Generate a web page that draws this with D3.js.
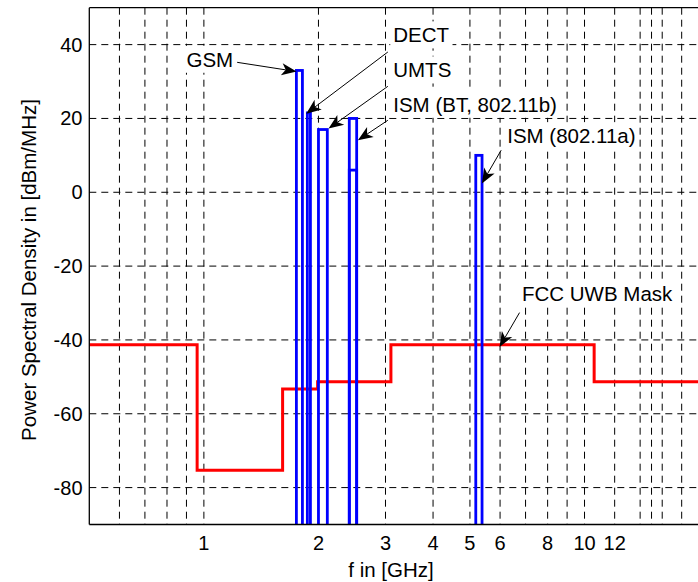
<!DOCTYPE html>
<html><head><meta charset="utf-8">
<script src="https://cdn.jsdelivr.net/npm/d3@7"></script>
<style>body{margin:0;background:#fff;overflow:hidden} text{font-family:"Liberation Sans",Arial,Helvetica,sans-serif;fill:#000}</style>
</head><body><svg id="c" width="698" height="582"></svg>
<script>
// ---- data ----
const xDomain = [0.5, 20];
const yDomain = [-90, 50];
const xGrid = [0.6, 0.7, 0.8, 0.9, 1, 2, 3, 4, 5, 6, 7, 8, 9, 10, 12, 14, 15, 16, 18];
const xTicks = [1, 2, 3, 4, 5, 6, 8, 10, 12];
const yTicks = [-80, -60, -40, -20, 0, 20, 40];

// FCC UWB mask (step starts in GHz, level in dBm/MHz)
const maskF  = [0.5, 0.96, 1.61, 1.99, 3.1, 10.6, 20];
const maskDb = [-41.3, -75.3, -53.3, -51.3, -41.3, -51.3, -51.3];

// narrow-band systems
const bandNames = ["GSM", "DECT", "UMTS", "ISM (BT, 802.11b)", "ISM (BT)", "ISM (802.11a)"];
const bandLo  = [1.75, 1.87, 2.0, 2.41, 2.41, 5.18];
const bandHi  = [1.815, 1.905, 2.11, 2.52, 2.52, 5.38];
const bandTop = [33, 21.5, 17, 20, 6, 10];
const bandFloor = -100;

// annotations (data coordinates)
const annLabel  = ["GSM", "DECT", "UMTS", "ISM (BT, 802.11b)", "ISM (802.11a)", "FCC UWB Mask"];
const annTextF  = [1.194, 3.144, 3.144, 3.144, 6.265, 6.85];
const annTextV  = [34.0, 40.6, 31.1, 21.8, 13.3, -29.4];
const annAnchor = ["end", "start", "start", "start", "start", "start"];
const annTailF  = [1.223, 3.043, 3.043, 3.043, 6.04, 6.75];
const annTailV  = [35.2, 38.0, 28.7, 19.5, 11.4, -32.6];
const annTipF   = [1.752, 1.857, 2.126, 2.539, 5.375, 5.98];
const annTipV   = [32.7, 21.3, 17.25, 14.1, 2.4, -41.9];

// ---- layout ----
const L = 89.3, R = 699.1, T = 7.7, B = 524.5;
const svg = d3.select("#c");
const x = d3.scaleLog().domain(xDomain).range([L, R]);
const y = d3.scaleLinear().domain(yDomain).range([B, T]);

svg.append("defs").append("clipPath").attr("id", "clip")
  .append("rect").attr("x", L).attr("y", T).attr("width", R - L).attr("height", B - T);

// grid
const grid = svg.append("g");
grid.selectAll("line.v").data(xGrid).join("line").attr("class", "v")
  .attr("x1", d => x(d)).attr("x2", d => x(d)).attr("y1", T).attr("y2", B)
  .attr("stroke", "#000").attr("stroke-width", 1).attr("stroke-dasharray", "7,5");
grid.selectAll("line.h").data(yTicks).join("line").attr("class", "h")
  .attr("x1", L).attr("x2", R).attr("y1", d => y(d)).attr("y2", d => y(d))
  .attr("stroke", "#000").attr("stroke-width", 1).attr("stroke-dasharray", "7,5");

const plot = svg.append("g").attr("clip-path", "url(#clip)");

// mask
const maskPts = maskF.map((f, i) => [f, maskDb[i]]);
plot.append("path").datum(maskPts)
  .attr("d", d3.line().x(d => x(d[0])).y(d => y(d[1])).curve(d3.curveStepAfter))
  .attr("fill", "none").attr("stroke", "#ff0000").attr("stroke-width", 3);

// bands
plot.selectAll("rect.band").data(bandNames.map((n, i) => i)).join("rect").attr("class", "band")
  .attr("x", i => x(bandLo[i])).attr("width", i => x(bandHi[i]) - x(bandLo[i]))
  .attr("y", i => y(bandTop[i])).attr("height", i => y(bandFloor) - y(bandTop[i]))
  .attr("fill", "none").attr("stroke", "#0000ff").attr("stroke-width", 2.8);

// axes box
svg.append("line").attr("x1", L).attr("x2", L).attr("y1", T).attr("y2", B).attr("stroke", "#000").attr("stroke-width", 1.3);
svg.append("line").attr("x1", L).attr("x2", R).attr("y1", B).attr("y2", B).attr("stroke", "#000").attr("stroke-width", 1.3);
svg.append("line").attr("x1", L).attr("x2", R).attr("y1", T).attr("y2", T).attr("stroke", "#000").attr("stroke-width", 1.3);

// tick labels
svg.selectAll("text.yt").data(yTicks).join("text").attr("class", "yt")
  .attr("x", L - 6.8).attr("y", d => y(d) + 7).attr("text-anchor", "end")
  .attr("font-size", 20).text(d => d);
svg.selectAll("text.xt").data(xTicks).join("text").attr("class", "xt")
  .attr("x", d => x(d)).attr("y", 550).attr("text-anchor", "middle")
  .attr("font-size", 20).text(d => d);

// axis labels
svg.append("text").attr("x", 391).attr("y", 577).attr("text-anchor", "middle")
  .attr("font-size", 20.5).text("f in [GHz]");
svg.append("text").attr("transform", "translate(36,270) rotate(-90)").attr("text-anchor", "middle")
  .attr("font-size", 20.5).text("Power Spectral Density in [dBm/MHz]");

// annotations
const ann = svg.append("g");
annLabel.forEach((lab, i) => {
  const g = ann.append("g");
  const bg = g.append("rect").attr("fill", "#fff");
  const t = g.append("text").attr("x", x(annTextF[i])).attr("y", y(annTextV[i]))
    .attr("text-anchor", annAnchor[i]).attr("font-size", 20.5).text(lab);
  const bb = t.node().getBBox();
  bg.attr("x", bb.x - 3).attr("y", bb.y - 2).attr("width", bb.width + 6).attr("height", bb.height + 4);
  // arrow
  const x1 = x(annTailF[i]), y1 = y(annTailV[i]), x2 = x(annTipF[i]), y2 = y(annTipV[i]);
  const dx = x2 - x1, dy = y2 - y1, len = Math.hypot(dx, dy);
  const ux = dx / len, uy = dy / len, nx = -uy, ny = ux;
  const HL = 15, HW = 6, NOTCH = 4;
  const bx = x2 - HL * ux, by = y2 - HL * uy;
  const mx = x2 - (HL - NOTCH) * ux, my = y2 - (HL - NOTCH) * uy;
  g.append("line").attr("x1", x1).attr("y1", y1).attr("x2", mx).attr("y2", my)
    .attr("stroke", "#000").attr("stroke-width", 1);
  g.append("path").attr("d", `M${x2},${y2}L${bx + HW * nx},${by + HW * ny}L${mx},${my}L${bx - HW * nx},${by - HW * ny}Z`)
    .attr("fill", "#000");
});
</script>
</body></html>
